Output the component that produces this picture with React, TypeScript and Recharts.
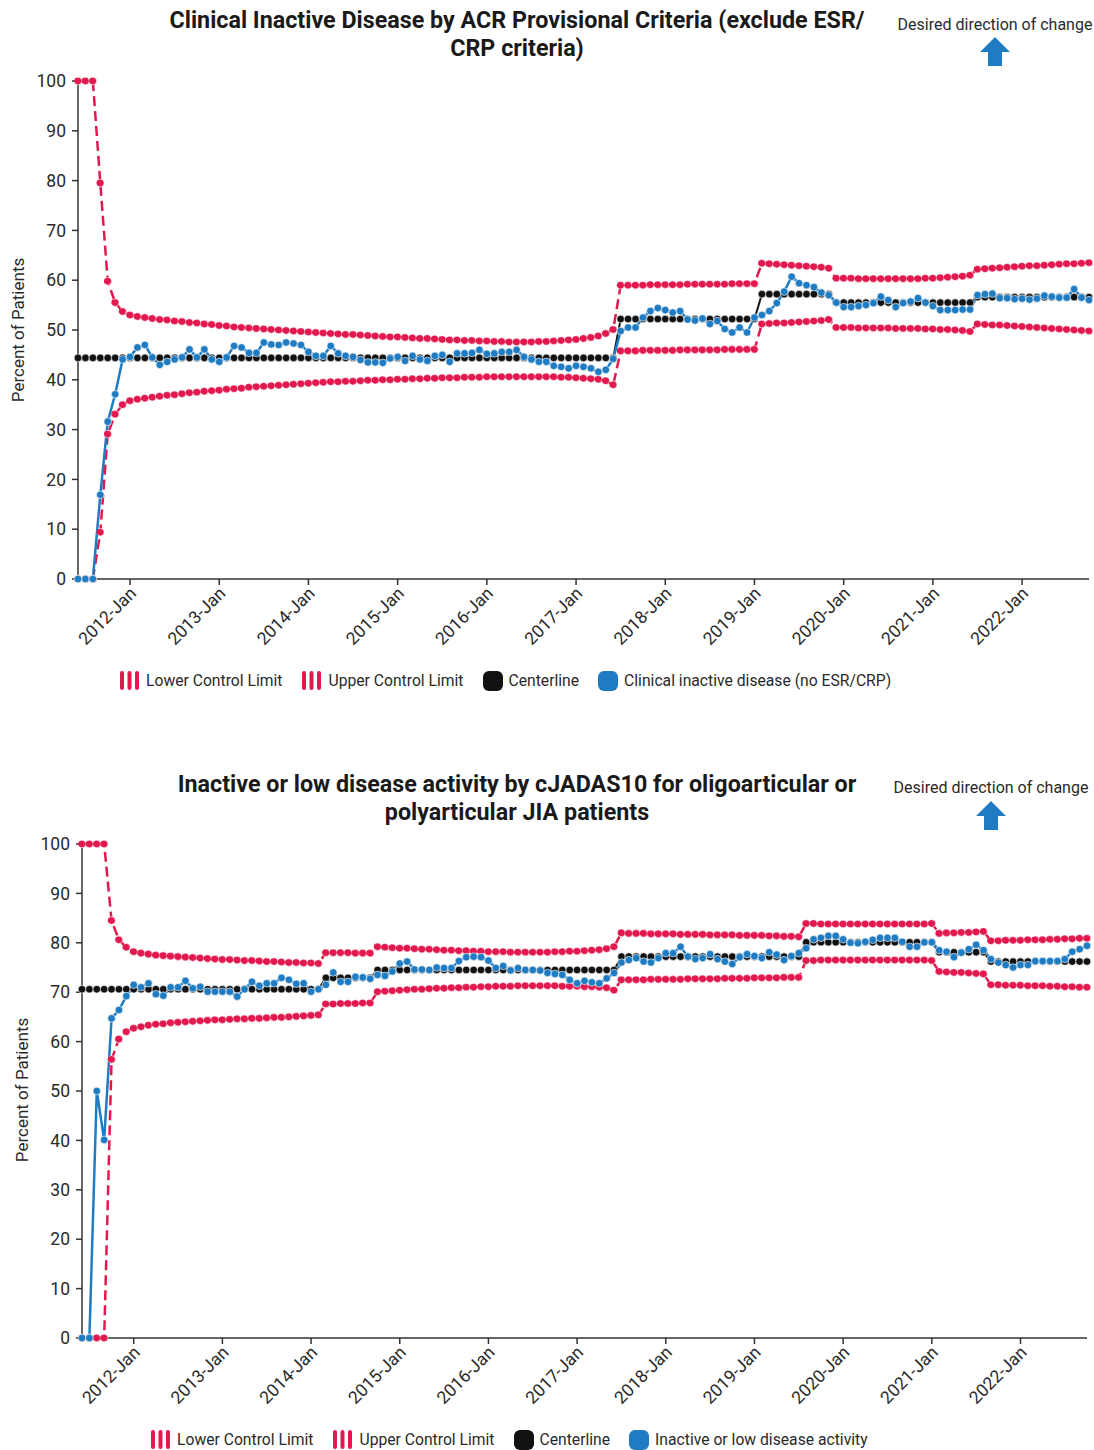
import React from "react";
import { Line, LineChart, XAxis, YAxis } from "recharts";

const RED = "#e2194e";
const BLUE = "#1f7cc2";
const BLACK = "#111111";
const INK = "#2a2a2a";
const FONT = "Roboto, 'Noto Sans', Arial, sans-serif";

// monthly categories, 2011-Jun .. 2022-Oct
const MONTH_NAMES = ["Jan", "Feb", "Mar", "Apr", "May", "Jun", "Jul", "Aug", "Sep", "Oct", "Nov", "Dec"];
const MONTHS: string[] = Array.from({ length: 137 }, (_, i) => {
  const k = 5 + i;
  return `${2011 + Math.floor(k / 12)}-${MONTH_NAMES[k % 12]}`;
});
const YEAR_TICKS = [
  "2012-Jan", "2013-Jan", "2014-Jan", "2015-Jan", "2016-Jan", "2017-Jan",
  "2018-Jan", "2019-Jan", "2020-Jan", "2021-Jan", "2022-Jan",
];
const Y_TICKS = [0, 10, 20, 30, 40, 50, 60, 70, 80, 90, 100];

// ---- chart 1: clinical inactive disease (no ESR/CRP)
const LCL_1 = [
  0, 0, 0, 9.4, 29.1, 33.1, 35.0, 35.8, 36.1, 36.3,
  36.5, 36.7, 36.9, 37.0, 37.2, 37.4, 37.5, 37.7, 37.8, 37.9,
  38.1, 38.2, 38.3, 38.5, 38.6, 38.7, 38.8, 38.9, 39.0, 39.1,
  39.2, 39.3, 39.4, 39.5, 39.6, 39.6, 39.7, 39.7, 39.8, 39.9,
  39.9, 40.0, 40.0, 40.1, 40.1, 40.2, 40.2, 40.3, 40.3, 40.4,
  40.4, 40.4, 40.5, 40.5, 40.5, 40.6, 40.6, 40.6, 40.6, 40.6,
  40.6, 40.6, 40.6, 40.6, 40.6, 40.5, 40.5, 40.4, 40.3, 40.2,
  40.1, 39.8, 39.0,
  45.8, 45.8, 45.8, 45.9, 45.9, 45.9, 45.9, 45.9, 46.0, 46.0,
  46.0, 46.0, 46.0, 46.0, 46.1, 46.1, 46.1, 46.1, 46.1,
  51.2, 51.3, 51.4, 51.4, 51.5, 51.6, 51.7, 51.8, 51.9, 52.1,
  50.5, 50.5, 50.5, 50.4, 50.4, 50.4, 50.4, 50.4, 50.3, 50.3,
  50.3, 50.3, 50.2, 50.2, 50.1, 50.1, 50.0, 49.9, 49.7,
  51.2, 51.1, 51.0, 51.0, 50.9, 50.8, 50.7, 50.6, 50.5, 50.4,
  50.3, 50.2, 50.1, 50.0, 49.9, 49.8,
];
const UCL_1 = [
  100, 100, 100, 79.5, 59.8, 55.5, 53.7, 53.0, 52.7, 52.5,
  52.3, 52.1, 52.0, 51.8, 51.7, 51.5, 51.4, 51.2, 51.1, 50.9,
  50.8, 50.6, 50.5, 50.4, 50.3, 50.2, 50.1, 50.0, 49.9, 49.8,
  49.7, 49.6, 49.5, 49.4, 49.3, 49.2, 49.1, 49.1, 49.0, 48.9,
  48.8, 48.7, 48.6, 48.6, 48.5, 48.4, 48.3, 48.3, 48.2, 48.1,
  48.0, 48.0, 47.9, 47.9, 47.8, 47.8, 47.7, 47.7, 47.6, 47.6,
  47.6, 47.6, 47.7, 47.7, 47.8, 47.9, 48.0, 48.1, 48.3, 48.5,
  48.8, 49.3, 50.1,
  59.0, 59.0, 59.0, 59.0, 59.1, 59.1, 59.1, 59.1, 59.1, 59.2,
  59.2, 59.2, 59.2, 59.2, 59.2, 59.3, 59.3, 59.3, 59.3,
  63.4, 63.3, 63.2, 63.1, 63.0, 62.9, 62.8, 62.7, 62.6, 62.4,
  60.4, 60.4, 60.4, 60.3, 60.3, 60.3, 60.3, 60.3, 60.3, 60.3,
  60.3, 60.3, 60.4, 60.4, 60.5, 60.6, 60.7, 60.8, 61.0,
  62.2, 62.3, 62.4, 62.5, 62.6, 62.7, 62.8, 62.9, 62.9, 63.0,
  63.1, 63.2, 63.3, 63.3, 63.4, 63.5,
];
const CENTER_1 = [
  44.4, 44.4, 44.4, 44.4, 44.4, 44.4, 44.4, 44.4, 44.4, 44.4,
  44.4, 44.4, 44.4, 44.4, 44.4, 44.4, 44.4, 44.4, 44.4, 44.4,
  44.4, 44.4, 44.4, 44.4, 44.4, 44.4, 44.4, 44.4, 44.4, 44.4,
  44.4, 44.4, 44.4, 44.4, 44.4, 44.4, 44.4, 44.4, 44.4, 44.4,
  44.4, 44.4, 44.4, 44.4, 44.4, 44.4, 44.4, 44.4, 44.4, 44.4,
  44.4, 44.4, 44.4, 44.4, 44.4, 44.4, 44.4, 44.4, 44.4, 44.4,
  44.4, 44.4, 44.4, 44.4, 44.4, 44.4, 44.4, 44.4, 44.4, 44.4,
  44.4, 44.4, 44.4,
  52.2, 52.2, 52.2, 52.2, 52.2, 52.2, 52.2, 52.2, 52.2, 52.2,
  52.2, 52.2, 52.2, 52.2, 52.2, 52.2, 52.2, 52.2, 52.2,
  57.2, 57.2, 57.2, 57.2, 57.2, 57.2, 57.2, 57.2, 57.2, 57.2,
  55.5, 55.5, 55.5, 55.5, 55.5, 55.5, 55.5, 55.5, 55.5, 55.5,
  55.5, 55.5, 55.5, 55.5, 55.5, 55.5, 55.5, 55.5, 55.5,
  56.6, 56.6, 56.6, 56.6, 56.6, 56.6, 56.6, 56.6, 56.6, 56.6,
  56.6, 56.6, 56.6, 56.6, 56.6, 56.6,
];
const INACTIVE_1 = [
  0, 0, 0, 16.9, 31.6, 37.1, 44.1, 44.6, 46.5, 47.0,
  44.5, 43.0, 43.6, 44.1, 44.5, 46.1, 44.5, 46.1, 44.1, 43.6,
  44.5, 46.8, 46.5, 45.4, 45.4, 47.5, 47.1, 47.0, 47.5, 47.3,
  47.0, 45.6, 44.8, 44.8, 46.8, 45.3, 44.8, 44.6, 44.0, 43.5,
  43.5, 43.4, 44.3, 44.6, 43.8, 44.8, 44.1, 43.8, 44.8, 45.0,
  43.6, 45.3, 45.3, 45.4, 46.0, 45.2, 45.3, 45.6, 45.6, 46.0,
  44.6, 44.1, 43.6, 43.6, 42.8, 42.6, 42.3, 42.8, 42.6, 42.3,
  41.6, 42.0, 44.2,
  49.8, 50.5, 50.5, 52.5, 53.8, 54.4, 54.0, 53.5, 53.8, 52.1,
  51.9, 52.3, 51.2, 51.8, 50.2, 49.5, 50.5, 49.5, 52.5,
  53.0, 53.8, 55.4, 57.7, 60.7, 59.4, 59.0, 58.6, 57.5, 57.0,
  55.5, 54.6, 54.6, 54.8, 55.0, 55.4, 56.7, 56.0, 54.6, 55.4,
  55.7, 56.4, 55.5, 54.8, 54.0, 54.0, 54.0, 54.1, 54.1,
  57.0, 57.2, 57.3, 56.4, 56.4, 56.2, 56.3, 56.1, 56.3, 56.9,
  56.7, 56.5, 56.5, 58.2, 56.5, 56.0,
];

// ---- chart 2: inactive or low disease activity (cJADAS10)
const LCL_2 = [
  0, 0, 0, 0, 56.4, 60.5, 62.0, 62.7, 63.0, 63.3,
  63.5, 63.6, 63.8, 63.9, 64.0, 64.1, 64.2, 64.3, 64.4, 64.4,
  64.5, 64.6, 64.6, 64.7, 64.7, 64.8, 64.9, 64.9, 65.0, 65.1,
  65.2, 65.3, 65.4,
  67.6, 67.6, 67.7, 67.7, 67.7, 67.8, 67.8,
  70.1, 70.2, 70.3, 70.4, 70.5, 70.6, 70.6, 70.7, 70.8, 70.8,
  70.9, 70.9, 71.0, 71.0, 71.1, 71.1, 71.2, 71.2, 71.2, 71.3,
  71.3, 71.3, 71.3, 71.3, 71.3, 71.2, 71.2, 71.2, 71.1, 71.1,
  71.0, 70.9, 70.4,
  72.5, 72.5, 72.5, 72.5, 72.6, 72.6, 72.6, 72.6, 72.6, 72.7,
  72.7, 72.7, 72.7, 72.7, 72.8, 72.8, 72.8, 72.8, 72.9, 72.9,
  72.9, 72.9, 73.0, 73.0, 73.0,
  76.4, 76.4, 76.5, 76.5, 76.5, 76.5, 76.5, 76.5, 76.5, 76.5,
  76.5, 76.5, 76.5, 76.5, 76.5, 76.5, 76.5, 76.4,
  74.2, 74.1, 74.0, 74.0, 73.9, 73.8, 73.7,
  71.5, 71.5, 71.4, 71.4, 71.4, 71.3, 71.3, 71.3, 71.2, 71.2,
  71.1, 71.1, 71.0, 71.0,
];
const UCL_2 = [
  100, 100, 100, 100, 84.5, 80.6, 79.1, 78.2, 77.9, 77.7,
  77.5, 77.4, 77.3, 77.2, 77.1, 77.0, 76.9, 76.8, 76.7, 76.6,
  76.6, 76.5, 76.4, 76.4, 76.3, 76.2, 76.2, 76.1, 76.0, 76.0,
  75.9, 75.9, 75.8,
  78.0, 78.0, 78.0, 78.0, 77.9, 77.9, 77.9,
  79.2, 79.1, 79.0, 78.9, 78.9, 78.8, 78.7, 78.7, 78.6, 78.5,
  78.5, 78.4, 78.4, 78.3, 78.3, 78.2, 78.2, 78.2, 78.1, 78.1,
  78.1, 78.1, 78.1, 78.1, 78.2, 78.2, 78.3, 78.3, 78.4, 78.5,
  78.6, 78.8, 79.2,
  82.0, 81.9, 81.9, 81.9, 81.8, 81.8, 81.8, 81.8, 81.7, 81.7,
  81.7, 81.7, 81.6, 81.6, 81.6, 81.6, 81.5, 81.5, 81.5, 81.5,
  81.4, 81.4, 81.3, 81.3, 81.2,
  83.9, 83.9, 83.8, 83.8, 83.8, 83.8, 83.8, 83.8, 83.8, 83.8,
  83.8, 83.8, 83.8, 83.8, 83.8, 83.8, 83.8, 83.9,
  81.9, 82.0, 82.0, 82.1, 82.1, 82.2, 82.3,
  80.4, 80.4, 80.5, 80.5, 80.5, 80.6, 80.6, 80.6, 80.7, 80.7,
  80.8, 80.8, 80.9, 80.9,
];
const CENTER_2 = [
  70.6, 70.6, 70.6, 70.6, 70.6, 70.6, 70.6, 70.6, 70.6, 70.6,
  70.6, 70.6, 70.6, 70.6, 70.6, 70.6, 70.6, 70.6, 70.6, 70.6,
  70.6, 70.6, 70.6, 70.6, 70.6, 70.6, 70.6, 70.6, 70.6, 70.6,
  70.6, 70.6, 70.6,
  72.9, 72.9, 72.9, 72.9, 72.9, 72.9, 72.9,
  74.5, 74.5, 74.5, 74.5, 74.5, 74.5, 74.5, 74.5, 74.5, 74.5,
  74.5, 74.5, 74.5, 74.5, 74.5, 74.5, 74.5, 74.5, 74.5, 74.5,
  74.5, 74.5, 74.5, 74.5, 74.5, 74.5, 74.5, 74.5, 74.5, 74.5,
  74.5, 74.5, 74.5,
  77.2, 77.2, 77.2, 77.2, 77.2, 77.2, 77.2, 77.2, 77.2, 77.2,
  77.2, 77.2, 77.2, 77.2, 77.2, 77.2, 77.2, 77.2, 77.2, 77.2,
  77.2, 77.2, 77.2, 77.2, 77.2,
  80.1, 80.1, 80.1, 80.1, 80.1, 80.1, 80.1, 80.1, 80.1, 80.1,
  80.1, 80.1, 80.1, 80.1, 80.1, 80.1, 80.1, 80.1,
  78.1, 78.1, 78.1, 78.1, 78.1, 78.1, 78.1,
  76.2, 76.2, 76.2, 76.2, 76.2, 76.2, 76.2, 76.2, 76.2, 76.2,
  76.2, 76.2, 76.2, 76.2,
];
const LOW_ACTIVITY_2 = [
  0, 0, 50.0, 40.1, 64.7, 66.4, 69.2, 71.5, 71.0, 71.8,
  69.6, 69.3, 71.0, 71.0, 72.3, 70.8, 71.1, 70.1, 70.1, 70.1,
  70.1, 69.1, 70.6, 72.1, 71.3, 71.8, 71.8, 72.9, 72.5, 71.7,
  71.8, 70.1, 70.6,
  71.5, 74.0, 72.1, 72.1, 73.1, 73.0, 72.7,
  73.5, 73.3, 74.2, 75.8, 76.2, 74.6, 74.6, 74.5, 75.0, 74.9,
  74.9, 76.3, 77.1, 77.2, 77.1, 76.4, 74.9, 75.3, 74.4, 74.9,
  74.5, 74.5, 74.4, 73.9, 73.7, 73.5, 72.5, 71.8, 72.3, 72.0,
  71.8, 72.8, 73.9,
  76.0, 76.5, 76.9, 76.2, 76.0, 76.9, 77.9, 77.9, 79.2, 77.2,
  76.7, 76.9, 77.7, 76.7, 76.2, 75.7, 77.1, 77.7, 77.3, 76.9,
  78.1, 77.6, 76.5, 77.3, 77.9,
  78.9, 80.7, 81.0, 81.4, 81.4, 80.7, 80.0, 79.9, 80.2, 80.6,
  81.0, 81.0, 81.0, 80.2, 79.2, 79.2, 80.1, 80.1,
  78.5, 78.2, 77.1, 78.0, 78.7, 79.6, 78.5,
  76.7, 76.0, 75.5, 75.0, 75.5, 75.5, 76.3, 76.3, 76.3, 76.3,
  76.7, 78.2, 78.7, 79.4,
];

const TICK_INDEX = YEAR_TICKS.map((t) => MONTHS.indexOf(t));

function buildRows(lcl: number[], ucl: number[], cl: number[], val: number[]) {
  return MONTHS.map((m, i) => ({ i, month: m, lcl: lcl[i], ucl: ucl[i], cl: cl[i], val: val[i] }));
}

const rows1 = buildRows(LCL_1, UCL_1, CENTER_1, INACTIVE_1);
const rows2 = buildRows(LCL_2, UCL_2, CENTER_2, LOW_ACTIVITY_2);

function XTick(props: any) {
  const { x, y, payload } = props;
  return (
    <g transform={`translate(${x + 3},${y + 3}) rotate(-45)`}>
      <text textAnchor="end" dy="0.35em" fontSize={17.5} fill={INK} fontFamily={FONT}>
        {MONTHS[payload.value]}
      </text>
    </g>
  );
}

function StripeIcon() {
  return (
    <svg width={21} height={21} style={{ display: "block" }}>
      <rect x={1} y={1} width={4} height={19} rx={2} fill={RED} />
      <rect x={8.5} y={1} width={4} height={19} rx={2} fill={RED} />
      <rect x={16} y={1} width={4} height={19} rx={2} fill={RED} />
    </svg>
  );
}

function BoxIcon({ color }: { color: string }) {
  return <div style={{ width: 20, height: 20, borderRadius: 6, background: color }} />;
}

function LegendRow({ left, top, label }: { left: number; top: number; label: string }) {
  const item = { display: "flex", alignItems: "center", gap: 6, marginRight: 19 } as const;
  return (
    <div
      style={{
        position: "absolute", left, top, display: "flex", alignItems: "center",
        fontSize: 15.7, color: INK, fontFamily: FONT, whiteSpace: "nowrap",
      }}
    >
      <div style={item}><StripeIcon /><span>Lower Control Limit</span></div>
      <div style={item}><StripeIcon /><span>Upper Control Limit</span></div>
      <div style={item}><BoxIcon color={BLACK} /><span>Centerline</span></div>
      <div style={item}><BoxIcon color={BLUE} /><span>{label}</span></div>
    </div>
  );
}

function Arrow({ cx, top }: { cx: number; top: number }) {
  return (
    <svg width={32} height={30} style={{ position: "absolute", left: cx - 16, top }}>
      <polygon points="16,0 31,15 23,15 23,29 9,29 9,15 1,15" fill={BLUE} />
    </svg>
  );
}

function Header({
  top, lines, noteTop, noteCx, arrowTop,
}: { top: number; lines: string[]; noteTop: number; noteCx: number; arrowTop: number }) {
  return (
    <>
      <div
        style={{
          position: "absolute", left: 67, width: 900, top, textAlign: "center",
          fontFamily: FONT, fontWeight: 700, fontSize: 23.3, lineHeight: "28px", color: "#1a1a1a",
        }}
      >
        {lines.map((l) => <div key={l}>{l}</div>)}
      </div>
      <div
        style={{
          position: "absolute", left: noteCx - 120, width: 240, top: noteTop, textAlign: "center",
          fontFamily: FONT, fontSize: 16, color: INK,
        }}
      >
        Desired direction of change
      </div>
      <Arrow cx={noteCx} top={arrowTop} />
    </>
  );
}

function YLabel({ cx, cy }: { cx: number; cy: number }) {
  return (
    <div
      style={{
        position: "absolute", left: cx - 90, top: cy - 11, width: 180, height: 22, lineHeight: "22px",
        textAlign: "center", transform: "rotate(-90deg)", transformOrigin: "center center",
        fontFamily: FONT, fontSize: 17, color: INK,
      }}
    >
      Percent of Patients
    </div>
  );
}

function ControlChart({
  rows, top, height, margin,
}: {
  rows: any[]; top: number; height: number; margin: { top: number; right: number; bottom: number; left: number };
}) {
  const dot = (c: string) => ({ r: 3.8, fill: c, stroke: "#ffffff", strokeWidth: 0.6 });
  return (
    <div style={{ position: "absolute", left: 0, top }}>
      <LineChart width={1094} height={height} data={rows} margin={margin}>
        <XAxis
          dataKey="i"
          type="number"
          domain={[0, MONTHS.length - 1]}
          ticks={TICK_INDEX}
          interval={0}
          height={80}
          tickSize={6}
          tickMargin={2}
          stroke="#333"
          strokeWidth={1.5}
          tick={<XTick />}
        />
        <YAxis
          type="number"
          domain={[0, 100]}
          ticks={Y_TICKS}
          interval={0}
          width={50}
          tickSize={6}
          tickMargin={6}
          stroke="#333"
          strokeWidth={1.5}
          tick={{ fontSize: 17.5, fill: INK, fontFamily: FONT }}
        />
        <Line dataKey="lcl" stroke={RED} strokeWidth={2.5} strokeDasharray="10 5" dot={dot(RED)} isAnimationActive={false} />
        <Line dataKey="ucl" stroke={RED} strokeWidth={2.5} strokeDasharray="10 5" dot={dot(RED)} isAnimationActive={false} />
        <Line dataKey="cl" stroke={BLACK} strokeWidth={2} dot={dot(BLACK)} isAnimationActive={false} />
        <Line dataKey="val" stroke={BLUE} strokeWidth={2.5} dot={dot(BLUE)} isAnimationActive={false} />
      </LineChart>
    </div>
  );
}

export default function App() {
  return (
    <div style={{ position: "relative", width: 1094, height: 1450, background: "#fff", overflow: "hidden" }}>
      <style>{`body{margin:0;}`}</style>
      <Header
        top={6}
        lines={["Clinical Inactive Disease by ACR Provisional Criteria (exclude ESR/", "CRP criteria)"]}
        noteTop={15}
        noteCx={995}
        arrowTop={37}
      />
      <YLabel cx={18} cy={330} />
      <ControlChart rows={rows1} top={0} height={659} margin={{ top: 81, right: 5, bottom: 0, left: 28 }} />
      <LegendRow left={119} top={670} label="Clinical inactive disease (no ESR/CRP)" />

      <Header
        top={770}
        lines={["Inactive or low disease activity by cJADAS10 for oligoarticular or", "polyarticular JIA patients"]}
        noteTop={778}
        noteCx={991}
        arrowTop={801}
      />
      <YLabel cx={22} cy={1090} />
      <ControlChart rows={rows2} top={763} height={655} margin={{ top: 81, right: 7, bottom: 0, left: 32 }} />
      <LegendRow left={150} top={1429} label="Inactive or low disease activity" />
    </div>
  );
}
